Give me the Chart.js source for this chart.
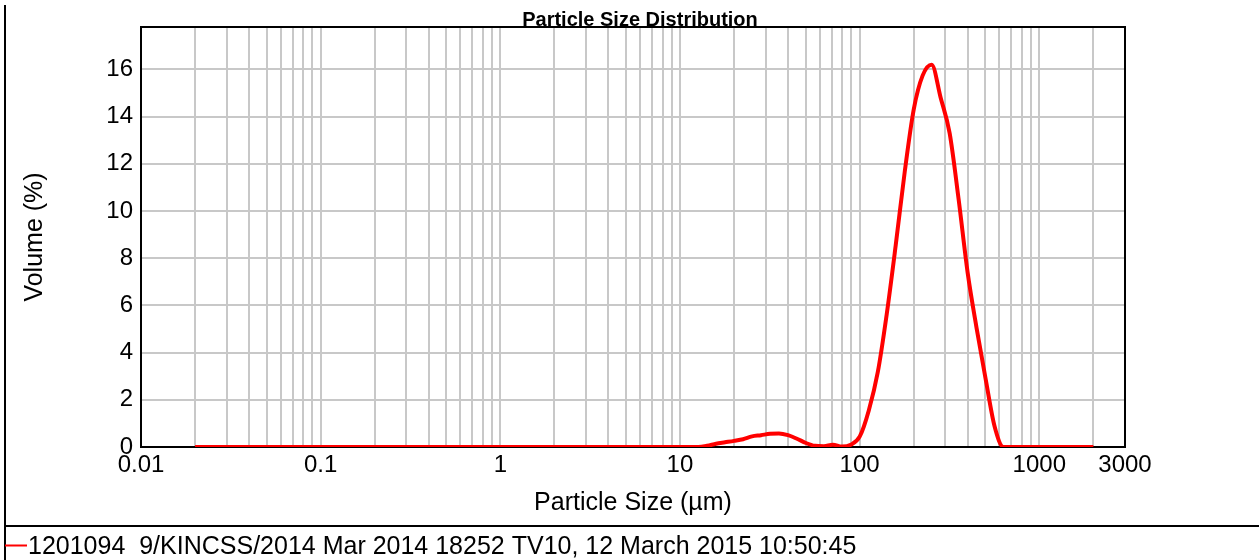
<!DOCTYPE html>
<html>
<head>
<meta charset="utf-8">
<title>Particle Size Distribution</title>
<script src="https://cdn.jsdelivr.net/npm/chart.js@4/dist/chart.umd.min.js"></script>
<style>
  body { margin: 0; background: #fff; }
  canvas { display: block; }
</style>
</head>
<body>
<canvas id="psd-chart" width="1259" height="560"></canvas>
<script>
// Data
const CHART_TITLE = 'Particle Size Distribution';
const SERIES_LABEL = '1201094  9/KINCSS/2014 Mar 2014 18252 TV10, 12 March 2015 10:50:45';

// Particle size classes (µm)
const sizes = [0.02, 11.247, 12.619, 14.159, 15.887, 17.825, 20.0, 22.44, 25.179, 28.251,
    31.698, 35.566, 39.905, 44.774, 50.238, 56.368, 63.246, 70.963, 79.621, 89.337,
    100.237, 112.468, 126.191, 141.589, 158.866, 178.25, 200.0, 224.404, 251.785, 282.508,
    316.979, 355.656, 399.052, 447.744, 502.377, 563.677, 632.456, 709.627, 2000];

// Volume (%) per class
const volumes = [0, 0, 0, 0.05, 0.14, 0.2, 0.26, 0.33, 0.45, 0.5,
    0.56, 0.57, 0.5, 0.35, 0.17, 0.05, 0.03, 0.1, 0.02, 0.1,
    0.45, 1.55, 3.17, 5.64, 8.56, 11.66, 14.3, 15.75, 16.2, 14.8,
    13.3, 10.5, 7.4, 5.04, 2.9, 0.88, 0, 0, 0];

// Axis ticks
const xLabelTicks = [0.01, 0.1, 1, 10, 100, 1000, 3000];
const xDecades = [0.01, 0.1, 1, 10, 100, 1000];
const yTicks = [0, 2, 4, 6, 8, 10, 12, 14, 16];

const X_MIN = 0.01;
const X_MAX = 3000;
const Y_MAX = 17.8;
const FONT = "'Liberation Sans', Arial, sans-serif";

// grid lines at 1..9 of each decade, plus 2000 and 3000
const xGridTicks = [];
xDecades.forEach(d => {
    for (let m = 1; m <= 9; m++) {
        const v = Number((m * d).toPrecision(6));
        if (v <= X_MAX) xGridTicks.push(v);
    }
});

// Frame, title, plot box and legend drawn around the chart
const decorations = {
    id: 'decorations',
    beforeDatasetsDraw(chart) {
        const { ctx, chartArea: a } = chart;
        ctx.save();
        ctx.strokeStyle = '#000';
        ctx.lineWidth = 2;
        ctx.beginPath();
        ctx.moveTo(a.left, a.top);
        ctx.lineTo(a.right, a.top);
        ctx.lineTo(a.right, a.bottom);
        ctx.stroke();
        ctx.restore();
    },
    afterDraw(chart) {
        const { ctx } = chart;
        ctx.save();
        // outer frame
        ctx.strokeStyle = '#000';
        ctx.lineWidth = 2;
        ctx.beginPath();
        ctx.moveTo(5, 5);
        ctx.lineTo(5, 560);
        ctx.moveTo(5, 526);
        ctx.lineTo(1259, 526);
        ctx.stroke();

        // title
        ctx.fillStyle = '#000';
        ctx.font = 'bold 20px ' + FONT;
        ctx.textAlign = 'center';
        ctx.textBaseline = 'alphabetic';
        ctx.fillText(CHART_TITLE, 640, 26);

        // legend
        ctx.strokeStyle = '#ff0000';
        ctx.lineWidth = 2;
        ctx.beginPath();
        ctx.moveTo(5, 545.5);
        ctx.lineTo(27, 545.5);
        ctx.stroke();
        ctx.font = '25px ' + FONT;
        ctx.textAlign = 'left';
        ctx.fillText(SERIES_LABEL, 28, 554);
        ctx.restore();
    }
};

const ctx = document.getElementById('psd-chart').getContext('2d');
const psdChart = new Chart(ctx, {
    type: 'line',
    data: {
        datasets: [{
            label: SERIES_LABEL,
            data: sizes.map((s, i) => ({ x: s, y: volumes[i] })),
            borderColor: '#ff0000',
            borderWidth: 4,
            pointRadius: 0,
            cubicInterpolationMode: 'monotone',
            fill: false
        }]
    },
    options: {
        responsive: false,
        animation: false,
        layout: { padding: { left: 5, top: 27, right: 134, bottom: 34 } },
        plugins: {
            legend: { display: false },
            title: { display: false },
            tooltip: { enabled: false }
        },
        scales: {
            x: {
                type: 'logarithmic',
                min: X_MIN,
                max: X_MAX,
                afterBuildTicks: scale => {
                    scale.ticks = xGridTicks.map(v => ({ value: v }));
                },
                afterFit: scale => { scale.height = 79; },
                ticks: {
                    autoSkip: false,
                    maxRotation: 0,
                    padding: 4,
                    color: '#000',
                    font: { family: FONT, size: 24 },
                    callback: value => xLabelTicks.includes(value) ? String(value) : ''
                },
                grid: { color: '#c8c8c8', lineWidth: 2, drawTicks: false },
                border: { color: '#000', width: 2 },
                title: {
                    display: true,
                    text: 'Particle Size (µm)',
                    color: '#000',
                    font: { family: FONT, size: 25 },
                    padding: { top: 0, bottom: 8 }
                }
            },
            y: {
                min: 0,
                max: Y_MAX,
                afterBuildTicks: scale => {
                    scale.ticks = yTicks.map(v => ({ value: v }));
                },
                afterFit: scale => { scale.width = 136; },
                ticks: {
                    padding: 8,
                    color: '#000',
                    font: { family: FONT, size: 24 }
                },
                grid: { color: '#c8c8c8', lineWidth: 2, drawTicks: false },
                border: { color: '#000', width: 2 },
                title: {
                    display: true,
                    text: 'Volume (%)',
                    color: '#000',
                    font: { family: FONT, size: 25 },
                    padding: { top: 15, bottom: 0 }
                }
            }
        }
    },
    plugins: [decorations]
});
</script>
</body>
</html>
